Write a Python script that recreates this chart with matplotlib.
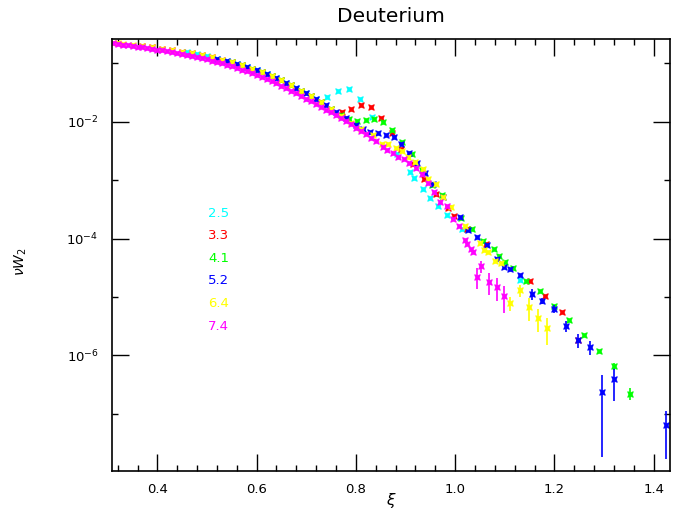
import numpy as np
import matplotlib
matplotlib.use("Agg")
import matplotlib.pyplot as plt
from matplotlib.ticker import MultipleLocator, FixedLocator, FixedFormatter, FormatStrFormatter

# Datos (xi, nu W2)
energias = ["2.5", "3.3", "4.1", "5.2", "6.4", "7.4"]
colores = ["#00ffff", "#ff0000", "#00ff00", "#0000ff", "#ffff00", "#ff00ff"]

cyan_x = [0.46, 0.48, 0.50, 0.52, 0.54, 0.56, 0.58, 0.60, 0.62, 0.64, 0.66, 0.68, 0.70, 0.72,
          0.741, 0.763, 0.786, 0.808, 0.833, 0.882, 0.909, 0.918, 0.936, 0.950, 0.965, 0.983,
          1.013, 1.130]
cyan_y = [0.153, 0.142, 0.131, 0.120, 0.109, 0.0977, 0.0867, 0.0759, 0.0658, 0.0560, 0.0466,
          0.0378, 0.0304, 0.0243, 0.0262, 0.0332, 0.0363, 0.0245, 0.0122, 2.85e-3, 1.38e-3,
          1.09e-3, 6.95e-4, 5.0e-4, 3.6e-4, 2.49e-4, 1.48e-4, 1.95e-5]

red_x = [0.37, 0.39, 0.41, 0.43, 0.45, 0.47, 0.49, 0.51, 0.53, 0.55, 0.57, 0.59, 0.61, 0.63,
         0.65, 0.67, 0.69, 0.71, 0.73, 0.75, 0.772, 0.791, 0.811, 0.830, 0.851, 0.872, 0.891,
         0.915, 0.938, 0.961, 0.985, 0.998, 1.024, 1.062, 1.150, 1.182, 1.215, 1.247]
red_y = [0.197, 0.187, 0.178, 0.168, 0.158, 0.148, 0.137, 0.126, 0.115, 0.104, 0.0923, 0.0813,
         0.0708, 0.0610, 0.0513, 0.0422, 0.0339, 0.0272, 0.0216, 0.0168, 0.0145, 0.0167, 0.0191,
         0.0181, 0.0114, 6.33e-3, 3.38e-3, 1.87e-3, 1.04e-3, 5.82e-4, 3.33e-4, 2.43e-4, 1.46e-4,
         7.96e-5, 1.89e-5, 1.03e-5, 5.44e-6, 1.83e-6]

green_x = [0.55, 0.57, 0.59, 0.61, 0.63, 0.65, 0.67, 0.69, 0.71, 0.73, 0.75, 0.77, 0.786, 0.802,
           0.820, 0.837, 0.855, 0.872, 0.892, 0.913, 0.933, 0.953, 0.973, 1.012, 1.034, 1.056,
           1.079, 1.089, 1.101, 1.116, 1.143, 1.172, 1.200, 1.230, 1.259, 1.290]
green_y = [0.104, 0.0923, 0.0813, 0.0708, 0.0610, 0.0513, 0.0422, 0.0339, 0.0272, 0.0216, 0.0168,
           0.0131, 0.0110, 0.0104, 0.0106, 0.0111, 0.0100, 7.07e-3, 4.41e-3, 2.78e-3, 1.49e-3,
           8.15e-4, 5.56e-4, 2.24e-4, 1.44e-4, 9.24e-5, 6.56e-5, 5.07e-5, 3.91e-5, 3.09e-5,
           1.87e-5, 1.28e-5, 7.13e-6, 4.02e-6, 2.27e-6, 1.19e-6]
green_ex = [1.321, 1.353]
green_ey = [6.56e-7, 2.22e-7]
green_err = [9.5e-8, 5.3e-8]

blue_x = [0.52, 0.54, 0.56, 0.58, 0.60, 0.62, 0.64, 0.66, 0.68, 0.70, 0.72, 0.74, 0.76, 0.78,
          0.80, 0.815, 0.829, 0.845, 0.860, 0.876, 0.891, 0.908, 0.923, 0.940, 0.956, 0.975,
          1.009, 1.026, 1.044, 1.064, 1.084, 1.099, 1.110, 1.131]
blue_y = [0.120, 0.109, 0.0977, 0.0867, 0.0759, 0.0658, 0.0560, 0.0466, 0.0378, 0.0304, 0.0243,
          0.0191, 0.0148, 0.0115, 8.91e-3, 7.50e-3, 6.66e-3, 6.33e-3, 5.98e-3, 5.40e-3, 4.20e-3,
          2.94e-3, 1.98e-3, 1.34e-3, 8.58e-4, 5.20e-4, 2.31e-4, 1.40e-4, 1.08e-4, 7.74e-5,
          4.55e-5, 3.29e-5, 3.01e-5, 2.34e-5]
blue_ex = [1.154, 1.176, 1.200, 1.223, 1.247, 1.271, 1.296, 1.321, 1.425]
blue_ey = [1.12e-5, 8.61e-6, 6.32e-6, 3.18e-6, 1.83e-6, 1.40e-6, 2.38e-7, 3.97e-7, 6.41e-8]
blue_err = [2.4e-6, 1.0e-6, 1.0e-6, 6.7e-7, 5.0e-7, 3.9e-7, 2.2e-7, 2.3e-7, 4.7e-8]

yellow_x = [0.31, 0.32, 0.33, 0.35, 0.37, 0.39, 0.41, 0.43, 0.45, 0.47, 0.49, 0.51, 0.53, 0.55,
            0.57, 0.59, 0.61, 0.63, 0.65, 0.67, 0.69, 0.71, 0.73, 0.75, 0.77, 0.79, 0.81,
            0.835, 0.852, 0.864, 0.880, 0.893, 0.906, 0.919, 0.935, 0.946, 0.962, 0.975, 0.991,
            1.020, 1.050, 1.059, 1.067, 1.080, 1.092]
yellow_y = [0.223, 0.219, 0.215, 0.206, 0.197, 0.187, 0.178, 0.168, 0.158, 0.148, 0.137, 0.126,
            0.115, 0.104, 0.0923, 0.0813, 0.0708, 0.0610, 0.0513, 0.0422, 0.0339, 0.0272, 0.0216,
            0.0165, 0.0126, 9.5e-3, 7.4e-3, 5.91e-3, 4.15e-3, 4.10e-3, 3.51e-3, 3.15e-3, 2.52e-3,
            2.07e-3, 1.57e-3, 1.04e-3, 8.48e-4, 5.14e-4, 3.40e-4, 1.64e-4, 8.28e-5, 6.35e-5,
            5.81e-5, 4.12e-5, 3.76e-5]
yellow_ex = [1.111, 1.130, 1.148, 1.167, 1.186]
yellow_ey = [7.76e-6, 1.29e-5, 6.71e-6, 4.36e-6, 2.90e-6]
yellow_err = [2.1e-6, 3.0e-6, 2.85e-6, 1.85e-6, 1.4e-6]

mag_x = [0.31, 0.32, 0.33, 0.34, 0.35, 0.36, 0.37, 0.38, 0.39, 0.40,
         0.41, 0.42, 0.43, 0.44, 0.45, 0.46, 0.47, 0.48, 0.49, 0.50,
         0.51, 0.52, 0.53, 0.54, 0.55, 0.56, 0.57, 0.58, 0.59, 0.60,
         0.61, 0.62, 0.63, 0.64, 0.65, 0.66, 0.67, 0.68, 0.69, 0.70,
         0.71, 0.72, 0.73, 0.74, 0.75, 0.76, 0.77, 0.78, 0.79, 0.80,
         0.81, 0.82, 0.83, 0.84, 0.854, 0.862, 0.874, 0.884, 0.897, 0.908,
         0.921, 0.934, 0.945, 0.958, 0.970, 0.983, 0.995, 1.007, 1.020, 1.024,
         1.032, 1.037]
mag_y = [0.219, 0.213, 0.208, 0.203, 0.198, 0.193, 0.188, 0.182, 0.177, 0.172,
         0.167, 0.162, 0.156, 0.151, 0.145, 0.140, 0.134, 0.129, 0.123, 0.117,
         0.111, 0.105, 0.0998, 0.0942, 0.0887, 0.0834, 0.0780, 0.0728, 0.0678, 0.0630,
         0.0582, 0.0537, 0.0493, 0.0451, 0.0410, 0.0372, 0.0337, 0.0305, 0.0275, 0.0247,
         0.0222, 0.0200, 0.0179, 0.0160, 0.0144, 0.0128, 0.0114, 0.0102, 9.0e-3, 7.94e-3,
         6.98e-3, 6.11e-3, 5.31e-3, 4.59e-3, 3.73e-3, 3.27e-3, 2.87e-3, 2.52e-3, 2.27e-3, 1.99e-3,
         1.59e-3, 1.27e-3, 8.81e-4, 6.23e-4, 4.17e-4, 3.61e-4, 2.13e-4, 1.64e-4, 9.31e-5, 8.05e-5,
         6.53e-5, 5.81e-5]
mag_ex = [1.045, 1.053, 1.069, 1.084, 1.098]
mag_ey = [2.22e-5, 3.38e-5, 1.82e-5, 1.50e-5, 1.05e-5]
mag_err = [8.5e-6, 8.0e-6, 7.6e-6, 6.5e-6, 5.15e-6]

ytick_vals = [1e-8, 1e-6, 1e-4, 1e-2, 1.0]
ytick_labels = ["$10^{-8}$", "$10^{-6}$", "$10^{-4}$", "$10^{-2}$", "$10^{0}$"]
yminor_vals = [1e-7, 1e-5, 1e-3, 1e-1]

#Figura
fig = plt.figure(figsize=(6.73, 5.14), dpi=100)
ax = fig.add_axes([0.166, 0.0842, 0.8295, 0.8393])

marca = (4, 1, 45)
ms = 6

def puntos(x, y, c):
    ax.plot(x, y, ls="none", marker=marca, ms=ms, color=c, mec=c, mew=0.3)

def barras(x, y, e, c):
    ax.errorbar(x, y, yerr=e, ls="none", marker=marca, ms=ms, color=c, mec=c, mew=0.3,
                elinewidth=1.2, capsize=0)

puntos(cyan_x, cyan_y, colores[0])
puntos(red_x, red_y, colores[1])
puntos(green_x, green_y, colores[2])
barras(green_ex, green_ey, green_err, colores[2])
puntos(blue_x, blue_y, colores[3])
barras(blue_ex, blue_ey, blue_err, colores[3])
puntos(yellow_x, yellow_y, colores[4])
barras(yellow_ex, yellow_ey, yellow_err, colores[4])
puntos(mag_x, mag_y, colores[5])
barras(mag_ex, mag_ey, mag_err, colores[5])

ax.set_yscale("log")
ax.set_xlim(0.308, 1.433)
ax.set_ylim(1.06e-8, 0.257)

ax.xaxis.set_major_locator(MultipleLocator(0.2))
ax.xaxis.set_minor_locator(MultipleLocator(0.04))
ax.xaxis.set_major_formatter(FormatStrFormatter("%.1f"))
ax.yaxis.set_major_locator(FixedLocator(ytick_vals))
ax.yaxis.set_major_formatter(FixedFormatter(ytick_labels))
ax.yaxis.set_minor_locator(FixedLocator(yminor_vals))
ax.yaxis.set_minor_formatter(FixedFormatter([""] * len(yminor_vals)))

ax.tick_params(which="both", direction="in", top=True, right=True, width=1.0, color="black")
ax.tick_params(which="major", length=12.2)
ax.tick_params(which="minor", length=4.1)
ax.tick_params(axis="x", which="major", pad=8.5, labelsize=9.5)
ax.tick_params(axis="y", which="major", pad=9.5, labelsize=9.5)
for s in ax.spines.values():
    s.set_linewidth(1.2)

# Leyenda como texto de colores
for i, (et, c) in enumerate(zip(energias, colores)):
    ax.text(0.173, 0.597 - i * 0.0524, et, color=c, fontsize=9.5,
            transform=ax.transAxes, ha="left", va="center")

fig.text(0.581, 0.967, "Deuterium", ha="center", va="center", fontsize=14.5)
fig.text(0.581, 0.027, r"$\xi$", ha="center", va="center", fontsize=11)
fig.text(0.031, 0.49, r"$\nu W_2$", ha="center", va="center", fontsize=10, rotation=90)

fig.savefig("out.png", dpi=100)
